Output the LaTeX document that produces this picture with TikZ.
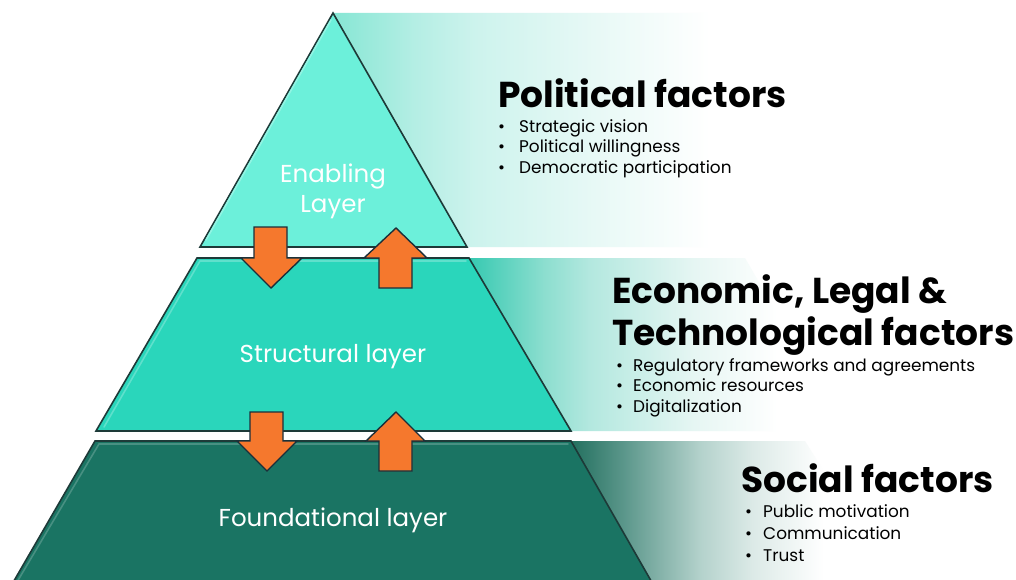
\documentclass[tikz,border=0pt]{standalone}
\usepackage{fontspec}
\setmainfont{Poppins}
\usepackage{tikz}
\usetikzlibrary{shadings}

\definecolor{enablingfill}{HTML}{6CF0DA}
\definecolor{structfill}{HTML}{2AD6BB}
\definecolor{foundfill}{HTML}{1A7463}
\definecolor{layeredge}{HTML}{1D3A38}
\definecolor{arrowfill}{HTML}{F5782D}
\definecolor{arrowedge}{HTML}{1B2F3A}

% fading bands behind the layers (25bp = left edge, 75bp = right edge)
\definecolor{topA}{HTML}{86E6D4}
\definecolor{topB}{HTML}{B4EEE4}
\definecolor{topC}{HTML}{CDF3ED}
\definecolor{topD}{HTML}{E8F9F6}
\pgfdeclarehorizontalshading{topfade}{100bp}{color(0bp)=(topA); color(25bp)=(topA); color(33bp)=(topB); color(39bp)=(topC); color(51bp)=(topD); color(62bp)=(white); color(100bp)=(white)}
\definecolor{midA}{HTML}{36C9B1}
\definecolor{midB}{HTML}{8CDECF}
\definecolor{midC}{HTML}{B3E8DF}
\definecolor{midD}{HTML}{E6F6F3}
\pgfdeclarehorizontalshading{midfade}{100bp}{color(0bp)=(midA); color(25bp)=(midA); color(35bp)=(midB); color(41bp)=(midC); color(55bp)=(midD); color(66bp)=(white); color(100bp)=(white)}
\definecolor{botA}{HTML}{23705F}
\definecolor{botB}{HTML}{5A968A}
\definecolor{botC}{HTML}{B4D2CC}
\definecolor{botD}{HTML}{DCEAE7}
\pgfdeclarehorizontalshading{botfade}{100bp}{color(0bp)=(botA); color(25bp)=(botA); color(33bp)=(botB); color(45bp)=(botC); color(53bp)=(botD); color(64bp)=(white); color(100bp)=(white)}

\begin{document}
\begin{tikzpicture}[x=1pt, y=-1pt,
  layer/.style={draw=layeredge, line width=1.6pt, line join=miter},
  bevel/.style={line width=1.6pt, line cap=round},
  blockarrow/.style={draw=arrowedge, fill=arrowfill, line width=1.4pt, line join=miter},
  layerlabel/.style={text=white, align=center, font=\fontsize{24.5}{30}\selectfont},
  heading/.style={anchor=base west, inner sep=0pt, font=\bfseries\fontsize{36}{40}\selectfont},
  item/.style={anchor=base west, inner sep=0pt, font=\fontsize{16.9}{20}\selectfont}]
\useasboundingbox[fill=white] (0,0) rectangle (1016,580);

% Fading bands
\shade[shading=topfade] (333,13) -- (712,13) -- (842,247) -- (333,247) -- cycle;
\shade[shading=midfade] (469,258) -- (745,258) -- (845,431) -- (469,431) -- cycle;
\shade[shading=botfade] (571,441) -- (805,441) -- (895,585) -- (571,585) -- cycle;

% Pyramid layers
\draw[layer, fill=enablingfill] (333,13) -- (467,247) -- (200,247) -- cycle;
\draw[layer, fill=structfill] (197,258) -- (469,258) -- (571,431) -- (96,431) -- cycle;
\draw[layer, fill=foundfill] (95,441) -- (571,441) -- (654,586) -- (11,586) -- cycle;

% Bevel highlights
\draw[bevel, color=enablingfill!75!white] (331,20) -- (206,240);
\draw[bevel, color=structfill!75!white] (104,427) -- (200,261) -- (466,261);
\draw[bevel, color=foundfill!80!white] (17,582) -- (99,444) -- (568,444);

% Arrows between enabling and structural layer
\draw[blockarrow] (254,227) -- (287,227) -- (287,258) -- (302,258) -- (271,288) -- (241,258) -- (254,258) -- cycle;
\draw[blockarrow] (379,288) -- (412,288) -- (412,258) -- (427,258) -- (396,228) -- (364,258) -- (379,258) -- cycle;
% Arrows between structural and foundational layer
\draw[blockarrow] (250,412) -- (283,412) -- (283,441) -- (297,441) -- (267,471) -- (237,441) -- (250,441) -- cycle;
\draw[blockarrow] (379,471) -- (412,471) -- (412,441) -- (425,441) -- (396,412) -- (366,441) -- (379,441) -- cycle;

% Layer names
\node[layerlabel] (enabling) at (333,191) {Enabling\\Layer};
\node[layerlabel] (structural) at (333,357) {Structural layer};
\node[layerlabel] (foundational) at (333,520) {Foundational layer};

% Political factors
\node[heading] (political) at (498,108) {Political factors};
\node[item] (pol1) at (498,133) {\makebox[21pt][l]{•}Strategic vision};
\node[item] (pol2) at (498,153) {\makebox[21pt][l]{•}Political willingness};
\node[item] (pol3) at (498,173) {\makebox[21pt][l]{•}Democratic participation};

% Economic, legal and technological factors
\node[heading] (economic) at (612,303) {Economic, Legal \&};
\node[heading] (technological) at (612,345) {Technological factors};
\node[item] (eco1) at (616,371) {\makebox[17pt][l]{•}Regulatory frameworks and agreements};
\node[item] (eco2) at (616,391) {\makebox[17pt][l]{•}Economic resources};
\node[item] (eco3) at (616,412) {\makebox[17pt][l]{•}Digitalization};

% Social factors
\node[heading] (social) at (741,492) {Social factors};
\node[item] (soc1) at (745,517) {\makebox[18pt][l]{•}Public motivation};
\node[item] (soc2) at (745,539) {\makebox[18pt][l]{•}Communication};
\node[item] (soc3) at (745,561) {\makebox[18pt][l]{•}Trust};
\end{tikzpicture}
\end{document}
